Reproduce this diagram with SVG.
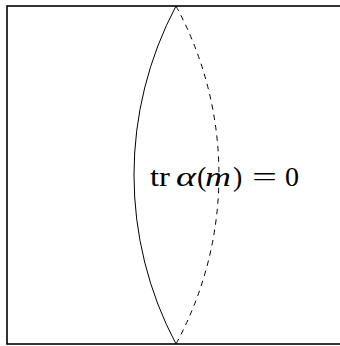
<svg xmlns="http://www.w3.org/2000/svg" width="340" height="346" viewBox="0 0 340 346">
<style>
.frame{fill:none;stroke:#000;stroke-width:1.6}
.curve{fill:none;stroke:#000;stroke-width:1}
.dash{stroke-dasharray:5.5 5}
.lbl{font-family:"Liberation Serif","DejaVu Serif",serif;font-size:28px;fill:#000}
.it{font-style:italic}
</style>
<rect width="340" height="346" fill="#fff"/>
<g id="frame"><rect class="frame" x="7" y="6" width="336" height="338"/></g>
<g id="connectors">
<path class="curve" d="M176,6 A361,361 0 0 0 176,344"/>
<path class="curve dash" d="M176,6 A354,354 0 0 1 176,344"/>
</g>
<g id="label">
<text class="lbl" y="186"><tspan x="150" textLength="20" lengthAdjust="spacingAndGlyphs">tr</tspan><tspan class="it" x="176" textLength="20" lengthAdjust="spacingAndGlyphs">α</tspan><tspan x="197">(</tspan><tspan class="it" x="205" textLength="26" lengthAdjust="spacingAndGlyphs">m</tspan><tspan x="233">)</tspan><tspan x="252" textLength="25" lengthAdjust="spacingAndGlyphs">=</tspan><tspan x="285">0</tspan></text>
</g>
</svg>
